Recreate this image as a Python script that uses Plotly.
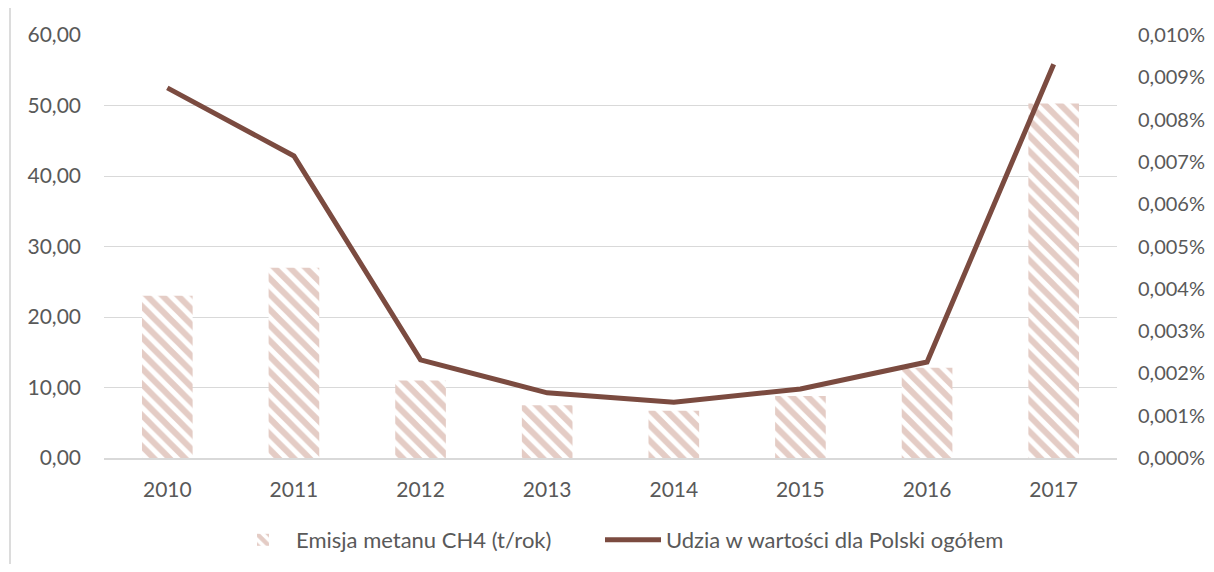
import plotly.graph_objects as go

years = ["2010", "2011", "2012", "2013", "2014", "2015", "2016", "2017"]
emisja = [23.0, 27.0, 11.0, 7.5, 6.7, 8.8, 12.8, 50.3]
udzial = [0.0000875, 0.0000714, 0.0000232, 0.0000154, 0.0000132, 0.0000163, 0.0000227, 0.0000931]

bar_name = "Emisja metanu CH4 (t/rok)"
line_name = "Udzia w wartości dla Polski ogółem"

# page has an 8px body margin
W, H = 1198, 556
ml, mt = 96, 27
pw, ph = 1013, 423
mr = W - ml - pw
mb = H - mt - ph

fig = go.Figure()
fig.add_trace(go.Bar(
    x=years, y=emisja, name=bar_name, legend="legend",
    marker=dict(color="white",
                pattern=dict(shape="\\", fgcolor="#C99A8C", bgcolor="white",
                             size=11, solidity=0.55, fillmode="overlay"),
                line=dict(width=0)),
    width=0.4, yaxis="y",
))
fig.add_trace(go.Scatter(
    x=years, y=udzial, name=line_name, mode="lines", legend="legend2",
    line=dict(color="#7B4B40", width=5), yaxis="y2",
))

fam = "Lato, Open Sans, Liberation Sans, sans-serif"
font = dict(family=fam, size=21, color="#595959")
rfont = dict(family=fam, size=20, color="#595959")
legfont = dict(family=fam, size=22, color="#595959")
ly = 1 - (540 - 8) / H

fig.update_layout(
    width=W, height=H,
    margin=dict(l=ml, r=mr, t=mt, b=mb, autoexpand=False),
    paper_bgcolor="white", plot_bgcolor="white",
    separators=", ",
    font=font,
    showlegend=True,
    legend=dict(orientation="h", xref="paper", x=(230 - 8 - ml) / pw, xanchor="left",
                yref="container", y=ly, yanchor="middle",
                font=legfont, itemwidth=56),
    legend2=dict(orientation="h", xref="paper", x=(600 - 8 - ml) / pw, xanchor="left",
                 yref="container", y=ly, yanchor="middle",
                 font=legfont, itemwidth=56),
    xaxis=dict(showgrid=False, showline=True, linecolor="#D9D9D9", linewidth=1.5,
               ticks="", tickfont=font, ticklabelstandoff=12, automargin=False),
    yaxis=dict(range=[0, 60], dtick=10, tickformat=".2f", showgrid=True,
               gridcolor="#D9D9D9", gridwidth=1.2, zeroline=False, showline=False,
               tickfont=font, ticklabelstandoff=22, automargin=False),
    yaxis2=dict(range=[0, 0.0001], dtick=0.00001, tickformat=".3%", overlaying="y",
                side="right", showgrid=False, zeroline=False, showline=False,
                tickfont=rfont, ticklabelstandoff=20, automargin=False),
    shapes=[
        dict(type="line", xref="paper", yref="paper",
             x0=(-8 - ml) / pw, x1=(W + 8 - ml) / pw,
             y0=(ph + mt + 5) / ph, y1=(ph + mt + 5) / ph,
             line=dict(color="#A56B5A", width=1, dash="dash")),
        dict(type="line", xref="paper", yref="paper",
             x0=(2 - ml) / pw, x1=(2 - ml) / pw,
             y0=(ph + mt + 3) / ph, y1=-(mb + 8) / ph,
             line=dict(color="#D0D0D0", width=1.5)),
    ],
)

fig.write_html("out.html")
